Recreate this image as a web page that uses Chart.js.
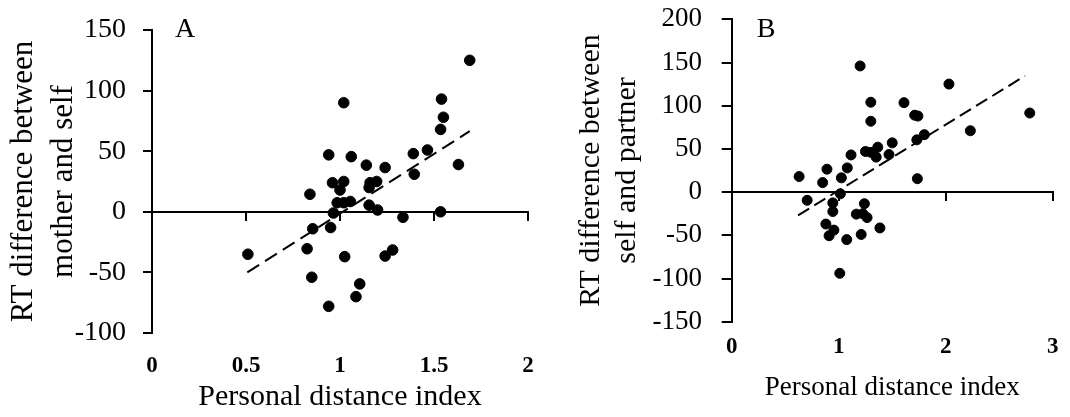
<!DOCTYPE html>
<html>
<head>
<meta charset="utf-8">
<script src="https://cdn.jsdelivr.net/npm/chart.js@4.4.1/dist/chart.umd.min.js"></script>
<style>
  html, body { margin: 0; padding: 0; background: #fff; }
  #wrap { position: relative; width: 1070px; height: 417px; }
  .box { position: absolute; top: 0; height: 417px; }
  #boxA { left: 0; width: 560px; }
  #boxB { left: 560px; width: 510px; }
</style>
</head>
<body>
<div id="wrap">
  <div class="box" id="boxA"><canvas id="graficoA" width="560" height="417"></canvas></div>
  <div class="box" id="boxB"><canvas id="graficoB" width="510" height="417"></canvas></div>
</div>
<script>
//..........DADOS..........
// painel A: mother vs self
var aX = [1.69, 1.02, 1.54, 1.55, 1.535, 1.465, 1.39, 1.63, 1.395, 0.94,
          1.06, 1.14, 1.24, 0.96, 1.02, 1.0, 1.16, 1.195, 1.155, 0.84,
          0.985, 1.02, 1.055, 1.155, 1.2, 0.965, 1.535, 1.335, 0.855, 0.95,
          0.51, 0.825, 1.025, 1.24, 1.28, 0.85, 1.105, 1.085, 0.94];
var aY = [125, 90, 93, 78, 68, 51, 48, 39, 31, 47,
          45.5, 38.5, 36.5, 24, 25, 18, 24, 25, 20, 14.5,
          7.5, 7.5, 8.5, 5.5, 1.5, -1, 0, -4.5, -14, -13,
          -35, -30.5, -37, -36.5, -31.5, -54, -59.5, -70, -78];
var aTendX = [0.507, 1.69];
var aTendY = [-50, 66.5];

// painel B: self vs partner
var bX = [1.2, 2.03, 1.3, 1.61, 2.785, 1.71, 1.74, 1.3, 2.23, 1.8,
          1.73, 1.5, 1.365, 1.25, 1.3, 1.47, 1.35, 1.115, 1.08, 0.89,
          0.63, 0.85, 1.025, 1.735, 1.015, 0.705, 0.945, 1.24, 0.945, 1.165,
          1.225, 1.265, 0.88, 0.955, 0.91, 1.21, 1.385, 1.075, 1.01];
var bY = [146, 125, 104, 103.5, 91.5, 89, 88, 82, 71, 66.5,
          60.5, 57, 52, 47, 46, 43.5, 40.5, 43, 28, 26.5,
          18, 11, 16.5, 15.5, -2, -9.5, -12.5, -13.5, -22.5, -25.5,
          -25, -29.5, -37, -44, -50.5, -49, -41.5, -55, -94];
var bTendX = [0.62, 2.74];
var bTendY = [-27, 134.5];

var tituloX = 'Personal distance index';
var tituloYA = ['RT difference between', 'mother and self'];
var tituloYB = ['RT difference between', 'self and partner'];

var fonte = '"Liberation Serif", "Times New Roman", serif';

function pontos(xs, ys) {
    return xs.map(function (x, i) { return { x: x, y: ys[i] }; });
}

// letra do painel (A / B) no canto superior esquerdo da area
var letraPainel = {
    id: 'letraPainel',
    afterDraw: function (chart, args, opts) {
        var ctx = chart.ctx;
        var area = chart.chartArea;
        ctx.save();
        ctx.font = '28px ' + fonte;
        ctx.fillStyle = '#000';
        ctx.textAlign = 'center';
        ctx.textBaseline = 'alphabetic';
        ctx.fillText(opts.texto, area.left + opts.dx, area.top + opts.dy);
        ctx.restore();
    }
};

function montarGrafico(canvasId, o) {
    var ctx = document.getElementById(canvasId).getContext('2d');
    return new Chart(ctx, {
        type: 'scatter',
        data: {
            datasets: [{
                data: pontos(o.xs, o.ys),
                backgroundColor: '#000',
                borderColor: '#000',
                pointRadius: o.raio,
                pointHoverRadius: o.raio,
                xAxisID: 'x',
                yAxisID: 'y'
            }, {
                type: 'line',
                data: pontos(o.tendX, o.tendY),
                borderColor: '#000',
                borderWidth: 2,
                borderDash: o.traco,
                pointRadius: 0,
                fill: false,
                xAxisID: 'x',
                yAxisID: 'y'
            }]
        },
        options: {
            responsive: false,
            animation: false,
            layout: { padding: { left: 0, top: o.topo, right: o.direita, bottom: 0 } },
            plugins: {
                legend: { display: false },
                tooltip: { enabled: false },
                letraPainel: { texto: o.letra, dx: o.letraDx, dy: o.letraDy }
            },
            scales: {
                // eixo de baixo: so os numeros e o titulo
                x: {
                    type: 'linear',
                    position: 'bottom',
                    min: 0,
                    max: o.xMax,
                    ticks: {
                        stepSize: o.xPasso,
                        padding: o.padX,
                        color: '#000',
                        font: { family: fonte, size: 23, weight: 'bold' },
                        callback: function (v) { return String(v); }
                    },
                    grid: { display: false, drawTicks: false },
                    border: { display: false },
                    title: {
                        display: true,
                        text: tituloX,
                        color: '#000',
                        font: { family: fonte, size: o.tamTitX },
                        padding: { top: 0, bottom: o.padTitX }
                    },
                    afterFit: function (s) { s.height = o.altX; }
                },
                // linha do zero com as marcas para baixo
                x0: {
                    type: 'linear',
                    axis: 'x',
                    position: { y: 0 },
                    min: 0,
                    max: o.xMax,
                    ticks: { display: false, stepSize: o.xPasso },
                    grid: { drawOnChartArea: false, color: '#000', lineWidth: 2, tickLength: 8 },
                    border: { color: '#000', width: 2 }
                },
                y: {
                    type: 'linear',
                    position: 'left',
                    min: o.yMin,
                    max: o.yMax,
                    ticks: {
                        stepSize: 50,
                        padding: o.padY,
                        color: '#000',
                        font: { family: fonte, size: o.tamTickY }
                    },
                    grid: { drawOnChartArea: false, color: '#000', lineWidth: 2, tickLength: o.marcaY },
                    border: { color: '#000', width: 2 },
                    title: {
                        display: true,
                        text: o.tituloY,
                        color: '#000',
                        font: { family: fonte, size: o.tamTitY, lineHeight: o.lhTitY },
                        padding: { top: o.padTitY, bottom: 0 }
                    },
                    afterFit: function (s) {
                        s.width = o.largY;
                        // sem folga extra em cima/baixo por causa dos numeros
                        s.paddingTop = 0;
                        s.paddingBottom = 0;
                    }
                }
            }
        },
        plugins: [letraPainel]
    });
}

//..........GRAFICO A..........
var graficoA = montarGrafico('graficoA', {
    xs: aX, ys: aY, tendX: aTendX, tendY: aTendY,
    raio: 5.3, traco: [14, 7],
    xMax: 2, xPasso: 0.5, yMin: -100, yMax: 150,
    topo: 30, direita: 32, largY: 152, altX: 84,
    padX: 19, tamTitX: 30, padTitX: 2,
    tamTickY: 28, padY: 17, marcaY: 9,
    tituloY: tituloYA, tamTitY: 31, lhTitY: 1.3, padTitY: 3.5,
    letra: 'A', letraDx: 33, letraDy: 7
});

//..........GRAFICO B..........
var graficoB = montarGrafico('graficoB', {
    xs: bX, ys: bY, tendX: bTendX, tendY: bTendY,
    raio: 5, traco: [13, 6],
    xMax: 3, xPasso: 1, yMin: -150, yMax: 200,
    topo: 19.3, direita: 8, largY: 171.7, altX: 95.3,
    padX: 11.5, tamTitX: 27, padTitX: 12.8,
    tamTickY: 27, padY: 19.7, marcaY: 10,
    tituloY: tituloYB, tamTitY: 30, lhTitY: 1.17, padTitY: 14,
    letra: 'B', letraDx: 34.3, letraDy: 17.7
});
</script>
</body>
</html>
